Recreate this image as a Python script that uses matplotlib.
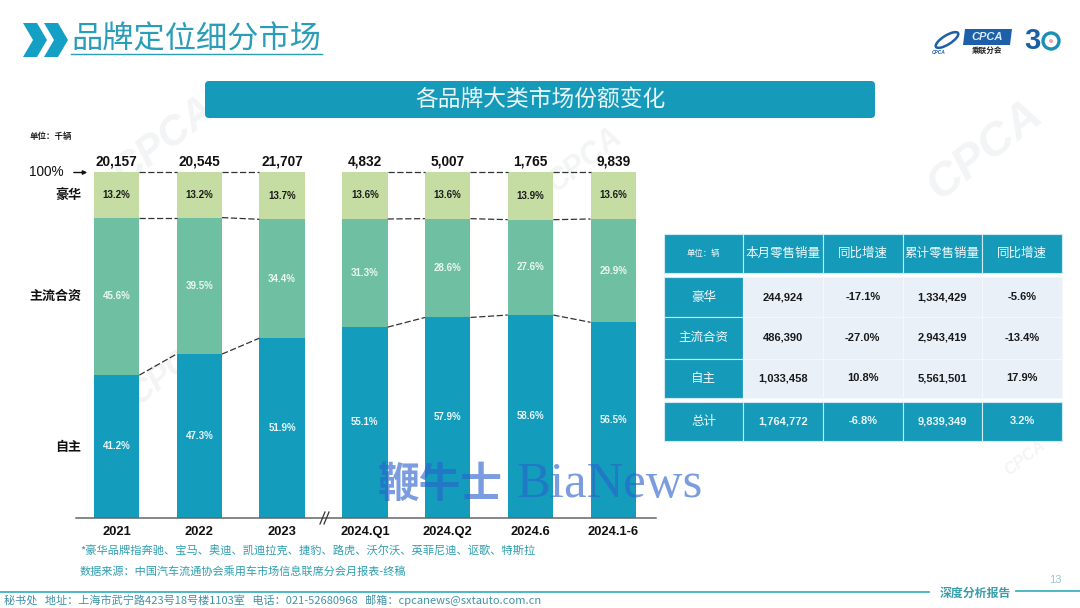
import matplotlib
matplotlib.use("Agg")
import matplotlib.pyplot as plt
from matplotlib.patches import FancyBboxPatch, Rectangle, Polygon, Circle, Ellipse

# ---------- data ----------
periods = ["2021", "2022", "2023", "2024.Q1", "2024.Q2", "2024.6", "2024.1-6"]
totals = ["20,157", "20,545", "21,707", "4,832", "5,007", "1,765", "9,839"]
own_share = [41.2, 47.3, 51.9, 55.1, 57.9, 58.6, 56.5]
jv_share = [45.6, 39.5, 34.4, 31.3, 28.6, 27.6, 29.9]
lux_share = [13.2, 13.2, 13.7, 13.6, 13.6, 13.9, 13.6]
segment_names = ["自主", "主流合资", "豪华"]

table_header = ["单位：辆", "本月零售销量", "同比增速", "累计零售销量", "同比增速"]
table_rows = [
    ["豪华", "244,924", "-17.1%", "1,334,429", "-5.6%"],
    ["主流合资", "486,390", "-27.0%", "2,943,419", "-13.4%"],
    ["自主", "1,033,458", "10.8%", "5,561,501", "17.9%"],
]
table_total = ["总计", "1,764,772", "-6.8%", "9,839,349", "3.2%"]

# ---------- styles ----------
CJK = ["Noto Sans CJK SC", "DejaVu Sans"]
LAT = ["Liberation Sans", "Noto Sans CJK SC"]
plt.rcParams["font.family"] = CJK
C_OWN, C_JV, C_LUX = "#149CBC", "#6FBFA2", "#C5DDA2"
C_HEAD, C_CELL = "#169ABA", "#E9F0F8"

fig = plt.figure(figsize=(10.8, 6.08), dpi=100, facecolor="white")

def pix_axes(z):
    a = fig.add_axes([0, 0, 1, 1], zorder=z)
    a.set_xlim(0, 1080); a.set_ylim(608, 0); a.axis("off")
    return a

bg = pix_axes(0)
fg = pix_axes(5)

# ---------- faint background marks ----------
for x, y, s in [(165, 140, 30), (585, 160, 22), (985, 150, 34), (170, 370, 24), (1025, 458, 12)]:
    bg.text(x, y, "CPCA", rotation=38, fontsize=s, color="#F3F4F5", ha="center", va="center",
            family=LAT, style="italic", weight="bold", zorder=0.5)

# ---------- header ----------
for dx in (0, 21):
    bg.add_patch(Polygon([(23+dx, 23), (37+dx, 23), (47+dx, 40), (37+dx, 57), (23+dx, 57), (33+dx, 40)],
                         closed=True, color="#14A0C4", lw=0))
bg.text(71.5, 39, "品牌定位细分市场", fontsize=22.5, color="#2A9DB8", va="center", ha="left")
bg.plot([71, 322], [53.5, 53.5], color="#2A9DB8", lw=1.0)

# logo
bg.add_patch(Polygon([(965, 29), (1012, 29), (1010, 45), (963, 45)], closed=True, color="#1D5FA8", lw=0))
bg.text(987, 37, "CPCA", fontsize=8, color="#DCEBFA", ha="center", va="center", family=LAT, style="italic", weight="bold")
bg.text(987, 50, "乘联分会", fontsize=5.5, color="#222222", ha="center", va="center", weight="bold")
bg.add_patch(Ellipse((947, 40), 26, 9, angle=-32, fill=False, ec="#1D5FA8", lw=1.8))
bg.text(939, 52, "CPCA", fontsize=3.5, color="#1D5FA8", ha="center", va="center", family=LAT, style="italic", weight="bold")
bg.text(1032, 41, "3", fontsize=21, color="#1B5FA5", ha="center", va="center", family=LAT, weight="bold")
bg.add_patch(Circle((1051, 41), 8, fill=False, ec="#1B8FB5", lw=2.4))
bg.add_patch(Circle((1051, 41), 2, color="#E9A9A0", lw=0))

# title bar
bg.add_patch(FancyBboxPatch((209, 85), 662, 29, boxstyle="round,pad=4", lw=0, fc=C_HEAD))
bg.text(540.5, 99.5, "各品牌大类市场份额变化", fontsize=16.4, color="#EAF7FA", ha="center", va="center")

bg.text(30, 136, "单位：千辆", fontsize=6.1, weight="bold", color="#222222", ha="left", va="center")

# ---------- stacked bars ----------
L, R, T, B = 76, 656, 172, 517.5
ax = fig.add_axes([L/1080, 1-B/608, (R-L)/1080, (B-T)/608], zorder=2)
ax.patch.set_alpha(0)
step = 82.8
ax.set_xlim((L-116.5)/step, (R-116.5)/step)
ax.set_ylim(0, 100)
xs = list(range(len(periods)))
W = 0.55
levels = [
    (own_share, [0]*7, C_OWN, "#EAF7FA"),
    (jv_share, own_share, C_JV, "#EAF7F2"),
    (lux_share, [a+b for a, b in zip(own_share, jv_share)], C_LUX, "#1a1a1a"),
]
for vals, bottoms, col, tcol in levels:
    ax.bar(xs, vals, W, bottom=bottoms, color=col, lw=0)
    for x, v, b in zip(xs, vals, bottoms):
        ax.text(x, b+v/2, f"{v:.1f}%", ha="center", va="center", fontsize=7, weight="bold", color=tcol, family=LAT)

# connectors between neighbouring bars (none across the axis break)
cum1 = own_share
cum2 = [a+b for a, b in zip(own_share, jv_share)]
cum3 = [100]*7
for cum in (cum1, cum2, cum3):
    for i in range(6):
        if i == 2:
            continue
        ax.plot([i+W/2, i+1-W/2], [cum[i], cum[i+1]], color="#333333", lw=0.9, dashes=(5, 2), clip_on=False)

for x, t in zip(xs, totals):
    ax.text(x, 101, t, ha="center", va="bottom", fontsize=9.8, weight="bold", color="#111111", family=LAT)

for s in ("top", "left", "right"):
    ax.spines[s].set_visible(False)
ax.spines["bottom"].set_color("#666666")
ax.spines["bottom"].set_linewidth(1.1)
ax.set_yticks([])
ax.set_xticks(xs, periods, fontsize=9.3, weight="bold", family=LAT, color="#111111")
ax.tick_params(axis="x", length=0, pad=6)

# axis break
for dx in (-2, 2):
    fg.plot([322+dx, 327+dx], [524, 512], color="#333333", lw=0.9)

# segment names and the 100% marker
fg.text(29, 172.5, "100%", fontsize=9.8, color="#111111", va="center", ha="left", family=LAT)
fg.annotate("", xy=(90, 172.5), xytext=(71, 172.5), arrowprops=dict(arrowstyle="-|>", color="#111111", lw=1.0, mutation_scale=6))
for name, y in zip(segment_names, [447, 296, 195]):
    fg.text(81.5, y, name, fontsize=9.4, color="#111111", ha="right", va="center", weight="bold")

# ---------- table ----------
cols = [664, 743, 823, 902.5, 982, 1062]
row_y = [(277, 317), (317, 358.5), (358.5, 398)]
def cell(ax_, c, y0, y1, fc, txt, tc, fs, fam=CJK, w="normal"):
    ax_.add_patch(Rectangle((cols[c], y0), cols[c+1]-cols[c], y1-y0, fc=fc, ec="#CFEAF2" if fc == C_HEAD else "#F4F7FB", lw=0.8, zorder=1))
    ax_.text((cols[c]+cols[c+1])/2, (y0+y1)/2, txt, color=tc, fontsize=fs, ha="center", va="center", family=fam, weight=w, zorder=4)

for c, t in enumerate(table_header):
    cell(bg, c, 234, 273, C_HEAD, t, "#F2FAFC", 6 if c == 0 else 9)
for (y0, y1), row in zip(row_y, table_rows):
    for c, t in enumerate(row):
        if c == 0:
            cell(bg, c, y0, y1, C_HEAD, t, "#F2FAFC", 9)
        else:
            cell(bg, c, y0, y1, C_CELL, t, "#1a1a1a", 8, LAT, "bold")
for c, t in enumerate(table_total):
    if c == 0:
        cell(bg, c, 402, 441, C_HEAD, t, "#F2FAFC", 9)
    else:
        cell(bg, c, 402, 441, C_HEAD, t, "#E8F6FA", 8, LAT, "bold")

# ---------- notes and footer ----------
bg.text(80, 551, "*豪华品牌指奔驰、宝马、奥迪、凯迪拉克、捷豹、路虎、沃尔沃、英菲尼迪、讴歌、特斯拉",
        fontsize=8.1, color="#2E9FB0", ha="left", va="center")
bg.text(80, 571, "数据来源：中国汽车流通协会乘用车市场信息联席分会月报表-终稿",
        fontsize=8.0, color="#2E9FB0", ha="left", va="center")
bg.plot([0, 929], [591.5, 591.5], color="#3FB2BE", lw=1.3)
bg.plot([1016, 1080], [590.5, 590.5], color="#3FB2BE", lw=1.3)
bg.text(975, 593, "深度分析报告", fontsize=8.6, color="#3A9DAA", ha="center", va="center", weight="bold")
bg.text(1055, 580, "13", fontsize=8, color="#9CC4CC", ha="center", va="center", family=LAT)
bg.text(4, 600.5, "秘书处   地址：上海市武宁路423号18号楼1103室   电话：021-52680968   邮箱：cpcanews@sxtauto.com.cn",
        fontsize=8.0, color="#3F93A8", ha="left", va="center")

# ---------- overlay watermark ----------
fg.text(378, 485, "鞭牛士", fontsize=30, color="#2A62CC", alpha=0.62, ha="left", va="center", family="Noto Sans CJK SC", weight="bold")
fg.text(516, 485, "BiaNews", fontsize=36.5, color="#2A62CC", alpha=0.62, ha="left", va="center", family="Liberation Serif")

fig.savefig("out.png", dpi=100, facecolor="white")
